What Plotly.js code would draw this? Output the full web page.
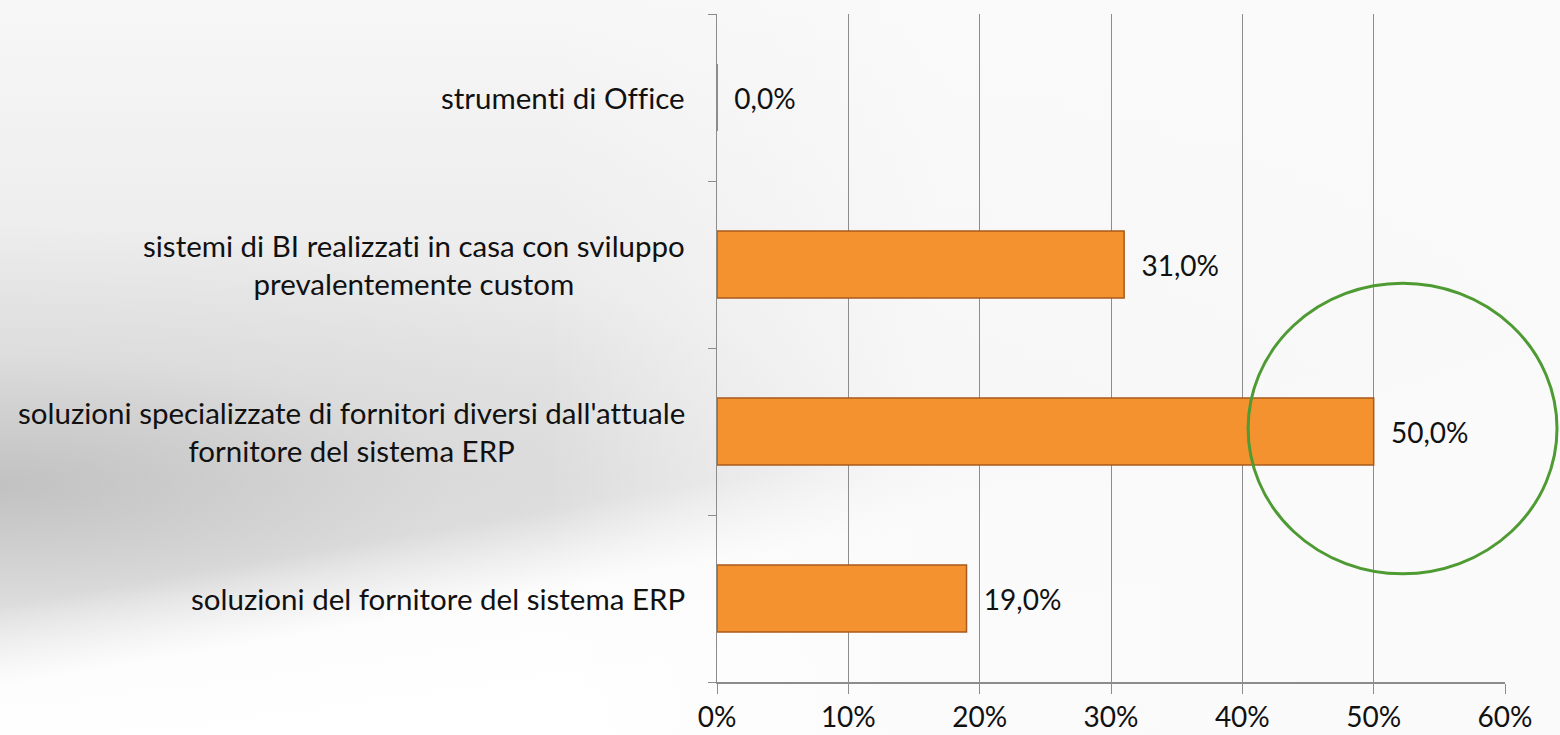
<!DOCTYPE html>
<html>
<head>
<meta charset="utf-8">
<script src="https://cdn.plot.ly/plotly-3.0.1.min.js"></script>
<style>
  html, body { margin:0; padding:0; width:1560px; height:735px; overflow:hidden; }
  body {
    background:
      linear-gradient(170deg, rgba(255,255,255,0) 0%, rgba(255,255,255,0) 60%, rgba(255,255,255,0.9) 68%, #ffffff 80%),
      radial-gradient(ellipse 900px 260px at 0% 66%, rgba(190,190,190,0.9) 0%, rgba(210,210,210,0.5) 50%, rgba(230,230,230,0) 100%),
      linear-gradient(180deg, #f7f7f7 0%, #e9e9e9 45%, #e2e2e2 65%, #f5f5f5 100%);
  }
  #chart { width:1560px; height:735px; position:relative; }
  #chart::before {
    content:""; position:absolute; left:0; top:0; width:1560px; height:735px;
    background: linear-gradient(90deg, rgba(255,255,255,0) 0%, rgba(255,255,255,0) 35%, rgba(250,250,250,0.85) 60%, rgba(250,250,250,0.95) 100%);
  }
  text { font-variant-ligatures: none; font-feature-settings: "liga" 0, "clig" 0; }
</style>
</head>
<body>
<div id="chart"></div>
<script>
const categories = [
  "soluzioni del fornitore del sistema ERP",
  "soluzioni specializzate di fornitori diversi dall'attuale<br>fornitore del sistema ERP",
  "sistemi di BI realizzati in casa con sviluppo<br>prevalentemente custom",
  "strumenti di Office"
];
const values = [0.19, 0.50, 0.31, 0.0];
const xTickValues = [0, 0.1, 0.2, 0.3, 0.4, 0.5, 0.6];
const xTickLabels = ["0%", "10%", "20%", "30%", "40%", "50%", "60%"];

const FONT = "Lato, 'Open Sans', sans-serif";

const trace = {
  type: 'bar',
  orientation: 'h',
  x: values,
  y: categories,
  width: 0.4,
  marker: { color: '#F59230', line: { color: '#A9591B', width: 1.5 } },
  texttemplate: '\u00a0\u00a0%{x:.1%}',
  textposition: 'outside',
  textfont: { family: FONT, size: 28, color: '#111111' },
  cliponaxis: false,
  hoverinfo: 'skip'
};

const annotations = categories.map(c => ({
  x: 0, xref: 'paper', y: c, yref: 'y',
  xanchor: 'right', yanchor: 'middle', xshift: -30,
  text: c, align: 'center', showarrow: false,
  font: { family: FONT, size: 29.5, color: '#111111' }
}));

const layout = {
  width: 1560, height: 735,
  margin: { l: 717, r: 55, t: 14, b: 53 },
  paper_bgcolor: 'rgba(0,0,0,0)',
  plot_bgcolor: 'rgba(0,0,0,0)',
  showlegend: false,
  separators: ',.',
  font: { family: FONT, color: '#111111' },
  xaxis: {
    range: [0, 0.6],
    tickvals: xTickValues,
    ticktext: xTickLabels,
    showgrid: true, gridcolor: '#8c8c8c', gridwidth: 1,
    zeroline: false,
    showline: true, linecolor: '#8c8c8c', linewidth: 1.5,
    ticks: 'outside', ticklen: 10, tickcolor: '#8c8c8c',
    tickfont: { family: FONT, size: 28, color: '#111111' },
    fixedrange: true
  },
  yaxis: {
    type: 'category',
    categoryorder: 'array', categoryarray: categories,
    range: [-0.5, 3.5],
    showticklabels: false,
    showline: true, linecolor: '#8c8c8c', linewidth: 1.5,
    ticks: 'outside', ticklen: 8, tickcolor: '#8c8c8c',
    tickson: 'boundaries',
    showgrid: false, zeroline: false,
    fixedrange: true
  },
  annotations: annotations,
  shapes: [{
    type: 'circle', xref: 'paper', yref: 'paper',
    x0: 0.674, x1: 1.066, y0: 0.162, y1: 0.597,
    line: { color: '#4E9A33', width: 3 },
    fillcolor: 'rgba(0,0,0,0)'
  }]
};

Plotly.newPlot('chart', [trace], layout, { displayModeBar: false, staticPlot: true });
</script>
</body>
</html>
